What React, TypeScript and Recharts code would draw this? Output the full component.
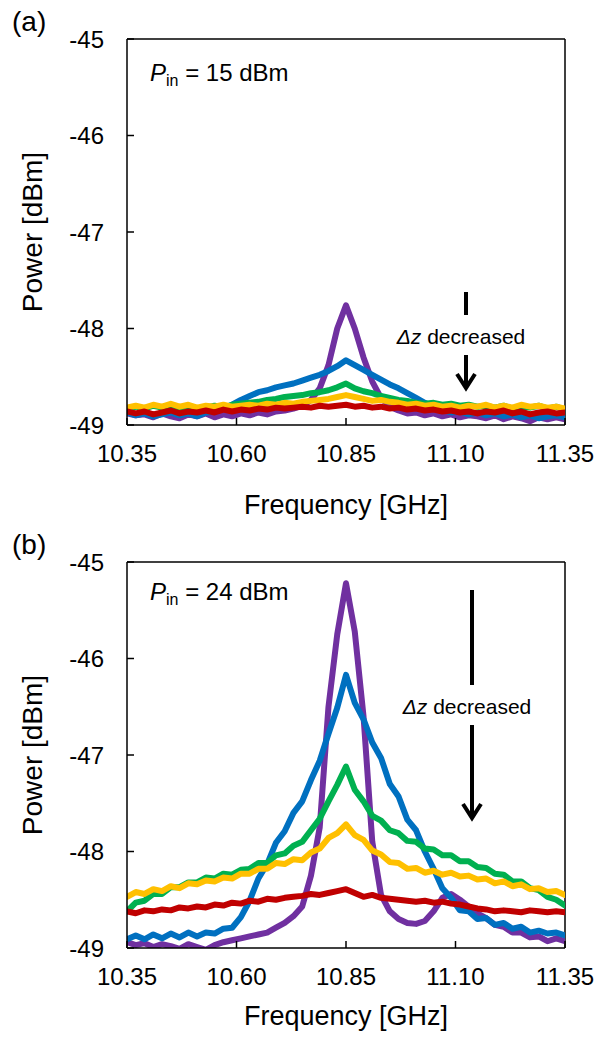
import React from "react";
import { LineChart, Line, XAxis, YAxis, ReferenceLine } from "recharts";

// frequency grid [GHz]
const freq = [
  10.35, 10.37, 10.39, 10.41, 10.43, 10.45, 10.47, 10.49, 10.51, 10.53,
  10.55, 10.57, 10.59, 10.61, 10.63, 10.65, 10.67, 10.69, 10.71, 10.73,
  10.75, 10.77, 10.79, 10.81, 10.83, 10.85, 10.87, 10.89, 10.91, 10.93,
  10.95, 10.97, 10.99, 11.01, 11.03, 11.05, 11.07, 11.09, 11.11, 11.13,
  11.15, 11.17, 11.19, 11.21, 11.23, 11.25, 11.27, 11.29, 11.31, 11.33,
  11.35,
];

const xTicks = [10.35, 10.6, 10.85, 11.1, 11.35];
const yTicks = [-49, -48, -47, -46, -45];

// (a) Pin = 15 dBm
const purpleA = [
  -48.88, -48.9, -48.89, -48.92, -48.88, -48.91, -48.93, -48.89, -48.91, -48.88,
  -48.92, -48.89, -48.91, -48.88, -48.9, -48.87, -48.89, -48.86, -48.85, -48.83,
  -48.8, -48.74, -48.62, -48.38, -48.0, -47.76, -48.0, -48.3, -48.55, -48.72,
  -48.81, -48.85, -48.88, -48.87, -48.9, -48.88, -48.91, -48.89, -48.92, -48.9,
  -48.91, -48.93, -48.9, -48.94, -48.91, -48.93, -48.96, -48.92, -48.94, -48.92,
  -48.94,
];
const blueA = [
  -48.87, -48.9, -48.88, -48.91, -48.89, -48.87, -48.9, -48.88, -48.91, -48.87,
  -48.86, -48.83, -48.79, -48.74, -48.7, -48.66, -48.64, -48.61, -48.59, -48.57,
  -48.54, -48.51, -48.48, -48.44, -48.39, -48.33, -48.38, -48.43, -48.48, -48.53,
  -48.58, -48.62, -48.67, -48.72, -48.77, -48.81, -48.84, -48.87, -48.86, -48.89,
  -48.87, -48.9, -48.88, -48.91, -48.89, -48.92, -48.9, -48.93, -48.91, -48.9,
  -48.92,
];
const greenA = [
  -48.84, -48.81, -48.83, -48.8, -48.82, -48.79, -48.83, -48.81, -48.84, -48.82,
  -48.8, -48.82, -48.79, -48.78, -48.77, -48.76, -48.74, -48.73, -48.71, -48.7,
  -48.69, -48.67, -48.66, -48.64, -48.61, -48.57, -48.62, -48.65, -48.67, -48.7,
  -48.72, -48.74, -48.75, -48.77, -48.78, -48.77, -48.79, -48.78, -48.8, -48.79,
  -48.81, -48.8, -48.82, -48.8, -48.83, -48.81, -48.82, -48.8, -48.83, -48.81,
  -48.84,
];
const yellowA = [
  -48.82, -48.8, -48.82, -48.79, -48.81, -48.78, -48.81, -48.79, -48.82, -48.8,
  -48.81, -48.79, -48.81, -48.8, -48.79, -48.8, -48.78, -48.79, -48.77, -48.78,
  -48.76, -48.75, -48.74, -48.73, -48.71, -48.69, -48.71, -48.73, -48.75, -48.74,
  -48.76, -48.77, -48.79, -48.78, -48.8, -48.79, -48.81, -48.8, -48.82, -48.8,
  -48.81, -48.79, -48.82, -48.8, -48.82, -48.79, -48.81, -48.8, -48.82, -48.81,
  -48.83,
];
const redA = [
  -48.86, -48.88, -48.86, -48.89, -48.87, -48.85, -48.88, -48.86, -48.87, -48.85,
  -48.87, -48.84, -48.86, -48.84, -48.85, -48.83, -48.84, -48.82, -48.83, -48.82,
  -48.81, -48.82, -48.8, -48.81, -48.8, -48.79, -48.81, -48.8, -48.82, -48.81,
  -48.83, -48.82, -48.84, -48.83, -48.85, -48.84, -48.86, -48.85, -48.87, -48.86,
  -48.88, -48.86, -48.87, -48.85, -48.88, -48.86, -48.89, -48.87, -48.86, -48.88,
  -48.87,
];

// (b) Pin = 24 dBm
const purpleB = [
  -48.94, -48.97, -48.95, -48.99, -48.96, -48.98, -49.01, -48.96, -48.99, -49.02,
  -48.97, -48.94, -48.92, -48.9, -48.88, -48.86, -48.84, -48.79, -48.74, -48.67,
  -48.57, -48.25, -47.75, -46.5, -45.75, -45.22, -45.72, -46.6, -47.9, -48.45,
  -48.62, -48.7, -48.74, -48.75, -48.72, -48.62, -48.48, -48.44, -48.5, -48.57,
  -48.64, -48.69, -48.76, -48.78, -48.84, -48.84, -48.89, -48.88, -48.93, -48.9,
  -48.93,
];
const blueB = [
  -48.91, -48.87, -48.91, -48.86, -48.9, -48.85, -48.89, -48.84, -48.88, -48.84,
  -48.85, -48.8, -48.79, -48.68, -48.51, -48.28, -48.13, -47.91, -47.79, -47.6,
  -47.48, -47.26, -47.06, -46.78, -46.51, -46.17, -46.46, -46.63, -46.87, -47.03,
  -47.3, -47.43, -47.67, -47.78, -48.0, -48.18, -48.38, -48.48, -48.61, -48.62,
  -48.7, -48.69, -48.76, -48.74, -48.8, -48.78, -48.84, -48.82, -48.85, -48.84,
  -48.87,
];
const greenB = [
  -48.62, -48.53, -48.51, -48.44, -48.44, -48.37, -48.37, -48.32, -48.32, -48.27,
  -48.28, -48.23, -48.24, -48.19, -48.18, -48.12, -48.12, -48.04, -48.02, -47.94,
  -47.9, -47.78, -47.66, -47.48, -47.31, -47.12, -47.36, -47.48, -47.63, -47.68,
  -47.78, -47.81, -47.89, -47.9, -47.97, -47.98, -48.04, -48.04, -48.1, -48.1,
  -48.16, -48.17, -48.23, -48.24, -48.31, -48.31, -48.38, -48.4, -48.47, -48.5,
  -48.56,
];
const yellowB = [
  -48.47, -48.42, -48.44, -48.39, -48.41, -48.36, -48.38, -48.33, -48.34, -48.3,
  -48.31, -48.27, -48.28, -48.23, -48.23, -48.18, -48.18, -48.12, -48.13, -48.08,
  -48.09, -48.01, -47.97, -47.86, -47.81, -47.72, -47.83, -47.88, -47.99, -48.03,
  -48.11, -48.12, -48.18, -48.17, -48.22, -48.2, -48.24, -48.22, -48.26, -48.25,
  -48.29, -48.28, -48.33, -48.31, -48.36, -48.34, -48.39, -48.38, -48.42, -48.41,
  -48.45,
];
const redB = [
  -48.62, -48.64, -48.61, -48.62, -48.6, -48.61, -48.58, -48.59, -48.57, -48.58,
  -48.55, -48.56, -48.53, -48.54, -48.51, -48.52, -48.49, -48.5, -48.48, -48.47,
  -48.46, -48.44, -48.45, -48.43, -48.41, -48.39, -48.43, -48.47, -48.45, -48.48,
  -48.49, -48.5, -48.51, -48.52, -48.51, -48.53, -48.52, -48.54, -48.55, -48.57,
  -48.59, -48.6, -48.62, -48.61, -48.62, -48.63, -48.61, -48.62, -48.63, -48.62,
  -48.63,
];

const COLORS = {
  purple: "#7030A0",
  blue: "#0070C0",
  green: "#00B050",
  yellow: "#FFC000",
  red: "#C00000",
};

const FONT = "'Liberation Sans', Arial, sans-serif";

const rowsA = freq.map((f, i) => ({
  f,
  purple: purpleA[i],
  blue: blueA[i],
  green: greenA[i],
  yellow: yellowA[i],
  red: redA[i],
}));

const rowsB = freq.map((f, i) => ({
  f,
  purple: purpleB[i],
  blue: blueB[i],
  green: greenB[i],
  yellow: yellowB[i],
  red: redB[i],
}));

const seriesOrder: (keyof typeof COLORS)[] = ["purple", "blue", "green", "yellow", "red"];

function Panel({ data, top }: { data: any[]; top: number }) {
  return (
    <div style={{ position: "absolute", left: 0, top }}>
      <LineChart
        width={609}
        height={520}
        data={data}
        margin={{ top: 39, right: 44, bottom: 35, left: 0 }}
      >
        <XAxis
          dataKey="f"
          type="number"
          domain={[10.35, 11.35]}
          ticks={xTicks}
          tickFormatter={(v: number) => v.toFixed(2)}
          height={60}
          tickSize={-7}
          tickMargin={27}
          axisLine={{ stroke: "#000", strokeWidth: 1.5 }}
          tickLine={{ stroke: "#000", strokeWidth: 1.5 }}
          tick={{ fill: "#000", fontSize: 24, fontFamily: FONT }}
          allowDataOverflow
        />
        <YAxis
          type="number"
          domain={[-49, -45]}
          ticks={yTicks}
          width={127}
          tickSize={-7}
          tickMargin={30}
          axisLine={{ stroke: "#000", strokeWidth: 1.5 }}
          tickLine={{ stroke: "#000", strokeWidth: 1.5 }}
          tick={{ fill: "#000", fontSize: 24, fontFamily: FONT }}
          allowDataOverflow
        />
        <ReferenceLine y={-45} stroke="#000" strokeWidth={1.5} />
        <ReferenceLine x={11.35} stroke="#000" strokeWidth={1.5} />
        {seriesOrder.map((k) => (
          <Line
            key={k}
            type="linear"
            dataKey={k}
            stroke={COLORS[k]}
            strokeWidth={6}
            strokeLinejoin="round"
            strokeLinecap="round"
            dot={false}
            isAnimationActive={false}
          />
        ))}
      </LineChart>
    </div>
  );
}

function Arrow({ x, barTop, barBottom, textY, arrowTop, arrowBottom }: any) {
  return (
    <g>
      <line x1={x} y1={barTop} x2={x} y2={barBottom} stroke="#000" strokeWidth={4} />
      <text x={x - 5} y={textY} textAnchor="middle" fontSize={21} fontFamily={FONT}>
        <tspan fontStyle="italic">Δz</tspan>
        <tspan> decreased</tspan>
      </text>
      <line x1={x} y1={arrowTop} x2={x} y2={arrowBottom - 2} stroke="#000" strokeWidth={4} />
      <polyline
        points={`${x - 9},${arrowBottom - 14} ${x},${arrowBottom} ${x + 9},${arrowBottom - 14}`}
        fill="none"
        stroke="#000"
        strokeWidth={4}
      />
    </g>
  );
}

function Annotations() {
  return (
    <svg
      width={609}
      height={1042}
      style={{ position: "absolute", left: 0, top: 0, pointerEvents: "none" }}
    >
      <g fontFamily={FONT} fill="#000">
        <text x={12} y={31} fontSize={28}>(a)</text>
        <text x={12} y={554} fontSize={28}>(b)</text>

        <text x={32} y={232} fontSize={28} textAnchor="middle" dominantBaseline="central" transform="rotate(-90 32 232)">
          Power [dBm]
        </text>
        <text x={32} y={755} fontSize={28} textAnchor="middle" dominantBaseline="central" transform="rotate(-90 32 755)">
          Power [dBm]
        </text>

        <text x={346} y={514} fontSize={27} textAnchor="middle">Frequency [GHz]</text>
        <text x={346} y={1025} fontSize={27} textAnchor="middle">Frequency [GHz]</text>

        <text x={150} y={81} fontSize={24}>
          <tspan fontStyle="italic">P</tspan>
          <tspan fontSize={16} dy={5}>in</tspan>
          <tspan dy={-5}> = 15 dBm</tspan>
        </text>
        <text x={150} y={600} fontSize={24}>
          <tspan fontStyle="italic">P</tspan>
          <tspan fontSize={16} dy={5}>in</tspan>
          <tspan dy={-5}> = 24 dBm</tspan>
        </text>

        <Arrow x={466} barTop={292} barBottom={315} textY={344} arrowTop={355} arrowBottom={388} />
        <Arrow x={472} barTop={590} barBottom={685} textY={714} arrowTop={725} arrowBottom={818} />
      </g>
    </svg>
  );
}

export default function App() {
  return (
    <div style={{ position: "absolute", left: 0, top: 0, width: 609, height: 1042, background: "#fff" }}>
      <Panel data={rowsA} top={0} />
      <Panel data={rowsB} top={523} />
      <Annotations />
    </div>
  );
}
